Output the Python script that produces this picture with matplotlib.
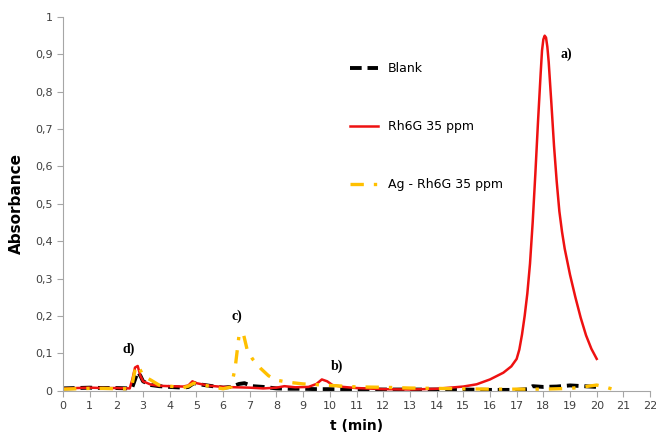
import matplotlib
matplotlib.use("Agg")
import matplotlib.pyplot as plt
from matplotlib.ticker import FuncFormatter

# Blank
t_blank = [0, 0.5, 1, 1.5, 2, 2.5, 2.6, 2.7, 2.8, 2.9, 3.0, 3.3, 3.6, 4.0, 4.5, 4.7, 4.9,
           5.2, 5.6, 6.0, 6.3, 6.6, 6.8, 7.1, 7.5, 8.0, 8.5, 9.0, 9.5, 10, 11, 12, 13, 14,
           15, 16, 17, 17.4, 17.6, 18, 18.5, 19, 19.5, 20]
a_blank = [0.006, 0.007, 0.008, 0.007, 0.007, 0.006, 0.01, 0.03, 0.05, 0.04, 0.025, 0.015,
           0.012, 0.01, 0.008, 0.01, 0.02, 0.016, 0.012, 0.008, 0.01, 0.018, 0.02, 0.012,
           0.01, 0.006, 0.005, 0.005, 0.004, 0.004, 0.003, 0.003, 0.003, 0.003, 0.003,
           0.002, 0.002, 0.004, 0.012, 0.01, 0.011, 0.014, 0.012, 0.01]

# Rh6G 35 ppm
t_rh = [0, 0.5, 1, 1.5, 2, 2.5, 2.6, 2.7, 2.8, 2.9, 3.0, 3.3, 3.6, 4.0, 4.5, 4.7, 4.85,
        5.0, 5.5, 6.0, 6.5, 7.0, 7.5, 8.0, 8.3, 8.7, 9.2, 9.5, 9.7, 9.9, 10.1, 10.5, 11,
        12, 13, 14, 14.5, 15, 15.5, 16, 16.5, 16.8, 17.0, 17.1, 17.2, 17.3, 17.4, 17.5,
        17.6, 17.7, 17.8, 17.9, 17.95, 18.0, 18.05, 18.1, 18.15, 18.2, 18.3, 18.4, 18.5,
        18.6, 18.7, 18.8, 18.9, 19.0, 19.1, 19.2, 19.4, 19.6, 19.8, 20]
a_rh = [0.005, 0.007, 0.008, 0.007, 0.007, 0.006, 0.03, 0.062, 0.066, 0.04, 0.025, 0.016,
        0.013, 0.012, 0.011, 0.014, 0.025, 0.02, 0.013, 0.01, 0.009, 0.008, 0.006, 0.008,
        0.012, 0.009, 0.01, 0.018, 0.03, 0.025, 0.015, 0.01, 0.007, 0.004, 0.003, 0.005,
        0.008, 0.011, 0.017, 0.03, 0.048, 0.065, 0.085, 0.11, 0.15, 0.2, 0.26, 0.34,
        0.45, 0.58, 0.72, 0.85, 0.91, 0.94, 0.95, 0.945, 0.92, 0.88, 0.77, 0.655, 0.56,
        0.48, 0.425, 0.38, 0.345, 0.31, 0.28, 0.25, 0.195, 0.148, 0.112, 0.085]

# Ag - Rh6G 35 ppm
t_ag = [0, 0.5, 1, 1.5, 2, 2.5, 2.6, 2.7, 2.8, 2.9, 3.0, 3.3, 3.6, 4.0, 4.5, 4.7, 4.9,
        5.2, 5.6, 6.0, 6.3, 6.45, 6.6, 6.75, 6.9, 7.1, 7.4, 7.7, 8.0, 8.5, 9.0, 9.5, 10,
        10.5, 11, 12, 13, 14, 15, 16, 17, 18, 19, 19.5, 20, 20.3, 20.6]
a_ag = [0.004, 0.005, 0.006, 0.006, 0.005, 0.005, 0.02, 0.055, 0.068, 0.055, 0.04, 0.028,
        0.015, 0.012, 0.008, 0.012, 0.02, 0.016, 0.01, 0.005, 0.01, 0.06, 0.15, 0.155,
        0.11, 0.085, 0.06, 0.04, 0.028, 0.022, 0.018, 0.016, 0.014, 0.012, 0.01, 0.009,
        0.007, 0.006, 0.005, 0.004, 0.004, 0.004, 0.006, 0.01, 0.015, 0.01, 0.004]

labels = ["Blank", "Rh6G 35 ppm", "Ag - Rh6G 35 ppm"]

fig = plt.figure(figsize=(6.56, 4.36), dpi=100)
ax = fig.add_axes([0.096, 0.104, 0.895, 0.857])

ax.plot(t_blank, a_blank, color="black", lw=2.8, ls=(0, (3, 1.5)), label=labels[0])
ax.plot(t_rh, a_rh, color="#ee1111", lw=1.8, label=labels[1])
ax.plot(t_ag, a_ag, color="#ffc000", lw=2.4, ls=(0, (4, 3, 1, 3)), label=labels[2])

ax.set_xlim(0, 22)
ax.set_ylim(0, 1)
ax.set_xticks(range(0, 23))
ax.set_yticks([i / 10 for i in range(11)])
ax.yaxis.set_major_formatter(FuncFormatter(lambda v, p: f"{v:g}".replace(".", ",")))
for s in ["top", "right"]:
    ax.spines[s].set_visible(False)
for s in ["left", "bottom"]:
    ax.spines[s].set_color("#a6a6a6")
ax.tick_params(colors="#a6a6a6", labelcolor="#404040", labelsize=8, length=4)

ax.set_xlabel("t (min)", fontsize=10, fontweight="bold", labelpad=6)
ax.set_ylabel("Absorbance", fontsize=11, fontweight="bold", labelpad=8)

ann = {"a)": (18.85, 0.9), "b)": (10.25, 0.065), "c)": (6.5, 0.2), "d)": (2.45, 0.11)}
for k, (x, y) in ann.items():
    ax.text(x, y, k, family="Liberation Serif", fontweight="bold", fontsize=10,
            ha="center", va="center")

ax.legend(loc="upper left", bbox_to_anchor=(0.47, 0.91), frameon=False,
          fontsize=9, labelspacing=3.6, handlelength=2.2, handletextpad=0.8)

fig.savefig("out.png", dpi=100)
